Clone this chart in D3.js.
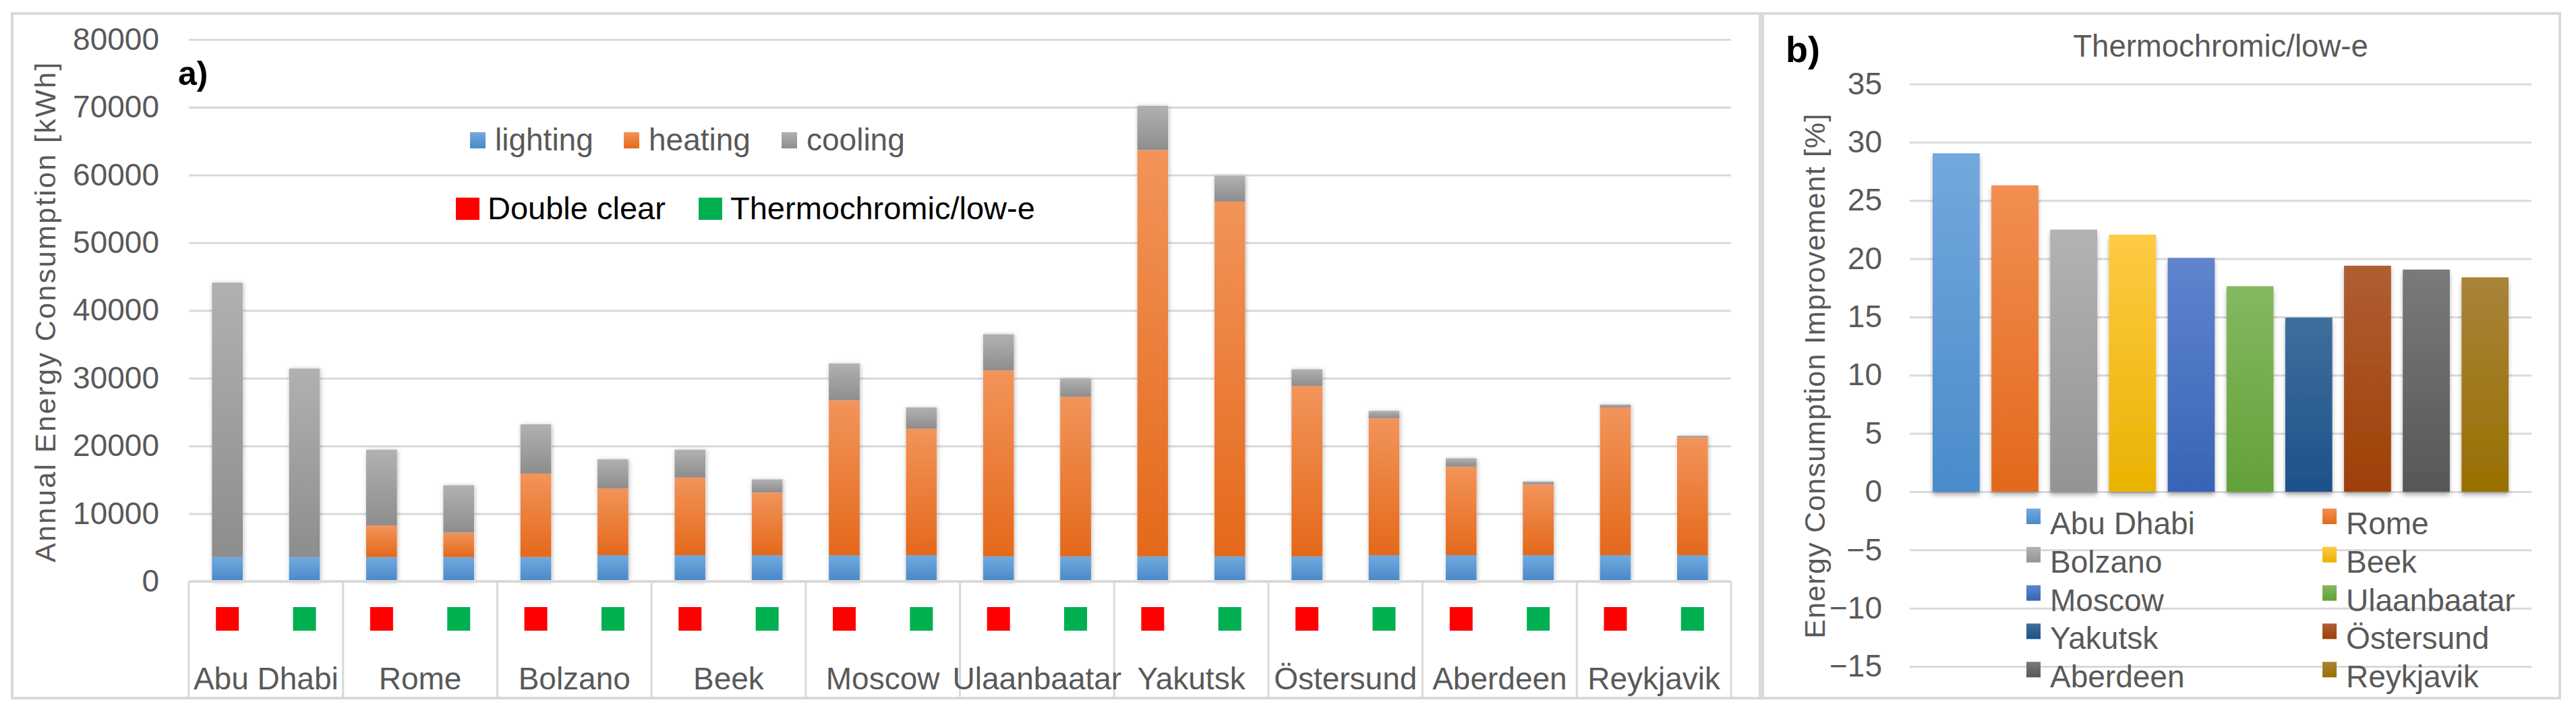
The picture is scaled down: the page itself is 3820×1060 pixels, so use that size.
<!DOCTYPE html>
<html>
<head>
<meta charset="utf-8">
<script src="https://cdn.jsdelivr.net/npm/d3@7"></script>
<style>
  html, body { margin: 0; padding: 0; background: #fff; }
  svg { display: block; font-family: "Liberation Sans", Arial, sans-serif; }
</style>
</head>
<body>
<svg id="chart" width="3820" height="1060"></svg>
<script>
// ---------------- DATA ----------------
const cities = ["Abu Dhabi", "Rome", "Bolzano", "Beek", "Moscow", "Ulaanbaatar", "Yakutsk", "Östersund", "Aberdeen", "Reykjavik"];
const glazings = ["Double clear", "Thermochromic/low-e"];
const components = ["lighting", "heating", "cooling"];

// Annual energy consumption [kWh], Double clear
const lightingDC = [3600, 3600, 3600, 3880, 3880, 3700, 3700, 3700, 3880, 3880];
const heatingDC  = [0, 4650, 12320, 11460, 22860, 27450, 59980, 25160, 13070, 21800];
const coolingDC  = [40500, 11200, 7280, 4110, 5440, 5350, 6540, 2460, 1230, 440];
// Annual energy consumption [kWh], Thermochromic/low-e
const lightingTC = [3600, 3600, 3880, 3880, 3880, 3700, 3700, 3880, 3880, 3880];
const heatingTC  = [0, 3600, 9850, 9240, 18650, 23550, 52370, 20190, 10430, 17380];
const coolingTC  = [27830, 7000, 4310, 1950, 3150, 2710, 3770, 1100, 450, 240];

// Energy consumption improvement [%], Thermochromic/low-e
const improvement = [29.05, 26.3, 22.5, 22.07, 20.07, 17.64, 14.95, 19.4, 19.07, 18.4];

const yTicksA = [0, 10000, 20000, 30000, 40000, 50000, 60000, 70000, 80000];
const yTicksB = [-15, -10, -5, 0, 5, 10, 15, 20, 25, 30, 35];

// ---------------- STYLE ----------------
const compGrad = {
  lighting: ["#72a9dd", "#4889c9"],
  heating:  ["#f2945a", "#e4691a"],
  cooling:  ["#b1b1b1", "#8d8d8d"]
};
const glazingColor = {"Double clear": "#ff0000", "Thermochromic/low-e": "#00b050"};
const cityGrad = [
  ["#73a9dd", "#4a8bcb"],
  ["#f28f52", "#e2691b"],
  ["#b3b3b3", "#949494"],
  ["#ffca45", "#e9b300"],
  ["#5f85cd", "#3864b6"],
  ["#84b960", "#63a139"],
  ["#3f6f9d", "#1d5189"],
  ["#b05e33", "#9e4006"],
  ["#7a7a7a", "#575757"],
  ["#a8833a", "#987000"]
];
const gridCol = "#d9d9d9";
const textCol = "#595959";

const svg = d3.select("#chart");
const defs = svg.append("defs");

function addGrad(id, cols) {
  const g = defs.append("linearGradient").attr("id", id)
    .attr("x1", 0).attr("y1", 0).attr("x2", 0).attr("y2", 1);
  g.append("stop").attr("offset", "0%").attr("stop-color", cols[0]);
  g.append("stop").attr("offset", "100%").attr("stop-color", cols[1]);
}
components.forEach(c => addGrad("g-" + c, compGrad[c]));
cityGrad.forEach((c, i) => addGrad("gc-" + i, c));

const fA = defs.append("filter").attr("id", "shadowA")
  .attr("x", "-30%").attr("y", "-10%").attr("width", "160%").attr("height", "120%");
fA.append("feDropShadow").attr("dx", 1).attr("dy", 1).attr("stdDeviation", 3)
  .attr("flood-color", "#000").attr("flood-opacity", 0.28);
const fB = defs.append("filter").attr("id", "shadowB")
  .attr("x", "-30%").attr("y", "-10%").attr("width", "160%").attr("height", "125%");
fB.append("feDropShadow").attr("dx", 0).attr("dy", 5).attr("stdDeviation", 3)
  .attr("flood-color", "#000").attr("flood-opacity", 0.3);

// ---------------- PANEL BORDERS ----------------
svg.append("rect").attr("x", 18).attr("y", 20).attr("width", 2592).attr("height", 1015)
  .attr("fill", "none").attr("stroke", gridCol).attr("stroke-width", 4);
svg.append("rect").attr("x", 2614).attr("y", 20).attr("width", 1182).attr("height", 1015)
  .attr("fill", "none").attr("stroke", gridCol).attr("stroke-width", 4);

// ================= PANEL A =================
const ax0 = 280, ax1 = 2567;
const yA = d3.scaleLinear().domain([0, 80000]).range([862, 58.5]);
const xA = d3.scaleBand().domain(cities).range([ax0, ax1]).padding(0);
const xSub = d3.scaleBand().domain(glazings).range([0, xA.bandwidth()])
  .paddingInner(0.6).paddingOuter(0.3);

// grid + y labels
const gA = svg.append("g").attr("transform", `translate(${ax0},0)`)
  .call(d3.axisLeft(yA).tickValues(yTicksA).tickFormat(d3.format("d"))
    .tickSize(-(ax1 - ax0)).tickPadding(44));
gA.select(".domain").remove();
gA.selectAll("line").attr("stroke", gridCol).attr("stroke-width", 3);
gA.selectAll("text").attr("fill", textCol).attr("font-size", 46)
  .attr("font-family", "Liberation Sans, Arial, sans-serif");

// data rows
const rows = [];
cities.forEach((c, i) => {
  rows.push({city: c, glazing: glazings[0], lighting: lightingDC[i], heating: heatingDC[i], cooling: coolingDC[i]});
  rows.push({city: c, glazing: glazings[1], lighting: lightingTC[i], heating: heatingTC[i], cooling: coolingTC[i]});
});
const stacked = d3.stack().keys(components)(rows);

// shadows layer (whole bar) then segments
const barX = d => xA(d.city) + xSub(d.glazing);
svg.append("g").selectAll("rect").data(rows).join("rect")
  .attr("x", barX).attr("width", xSub.bandwidth())
  .attr("y", d => yA(d.lighting + d.heating + d.cooling))
  .attr("height", d => yA(0) - yA(d.lighting + d.heating + d.cooling))
  .attr("fill", "#fff").attr("filter", "url(#shadowA)");

svg.append("g").selectAll("g").data(stacked).join("g")
  .attr("fill", s => `url(#g-${s.key})`)
  .selectAll("rect").data(s => s.filter(p => p[1] - p[0] > 0)).join("rect")
  .attr("x", p => barX(p.data)).attr("width", xSub.bandwidth())
  .attr("y", p => yA(p[1])).attr("height", p => yA(p[0]) - yA(p[1]));

// category axis area
const catG = svg.append("g");
catG.append("line").attr("x1", ax0).attr("x2", ax1).attr("y1", 862).attr("y2", 862)
  .attr("stroke", gridCol).attr("stroke-width", 4);
const edges = cities.map(c => xA(c)).concat([xA(cities[cities.length - 1]) + xA.bandwidth()]);
catG.selectAll("line.div").data(edges).join("line").attr("class", "div")
  .attr("x1", d => d).attr("x2", d => d).attr("y1", 862).attr("y2", 1035)
  .attr("stroke", gridCol).attr("stroke-width", 3);
catG.selectAll("rect.mk").data(rows).join("rect").attr("class", "mk")
  .attr("x", d => barX(d) + xSub.bandwidth() / 2 - 17).attr("width", 34)
  .attr("y", 900).attr("height", 35)
  .attr("fill", d => glazingColor[d.glazing]);
catG.selectAll("text.cat").data(cities).join("text").attr("class", "cat")
  .attr("x", d => xA(d) + xA.bandwidth() / 2).attr("y", 1022)
  .attr("text-anchor", "middle").attr("font-size", 46).attr("fill", textCol)
  .text(d => d);

// y title A
svg.append("text")
  .attr("transform", "translate(82,462) rotate(-90)")
  .attr("text-anchor", "middle").attr("font-size", 43).attr("letter-spacing", 2.4)
  .attr("fill", textCol).text("Annual Energy Consumption [kWh]");

// "a)"
svg.append("text").attr("x", 264).attr("y", 126).attr("font-size", 50)
  .attr("font-weight", "bold").attr("fill", "#000").text("a)");

// legend 1 (components)
const leg1x = [697, 925, 1159];
const leg1 = svg.append("g").selectAll("g").data(components).join("g")
  .attr("transform", (d, i) => `translate(${leg1x[i]},0)`);
leg1.append("rect").attr("x", 0).attr("y", 196).attr("width", 23).attr("height", 24)
  .attr("fill", d => `url(#g-${d})`);
leg1.append("text").attr("x", 37).attr("y", 223).attr("font-size", 46)
  .attr("fill", textCol).text(d => d);

// legend 2 (glazings)
const leg2x = [676, 1036];
const leg2 = svg.append("g").selectAll("g").data(glazings).join("g")
  .attr("transform", (d, i) => `translate(${leg2x[i]},0)`);
leg2.append("rect").attr("x", 0).attr("y", 293).attr("width", 35).attr("height", 33)
  .attr("fill", d => glazingColor[d]);
leg2.append("text").attr("x", 47).attr("y", 325).attr("font-size", 47)
  .attr("fill", "#000").text(d => d);

// ================= PANEL B =================
const bx0 = 2832, bx1 = 3754;
const yB = d3.scaleLinear().domain([-15, 35]).range([988, 124.5]);
const xB = d3.scaleBand().domain(cities).range([bx0, bx1]).paddingInner(0.2).paddingOuter(0.39);

const gB = svg.append("g").attr("transform", `translate(${bx0},0)`)
  .call(d3.axisLeft(yB).tickValues(yTicksB).tickFormat(d3.format("d"))
    .tickSize(-(bx1 - bx0)).tickPadding(41));
gB.select(".domain").remove();
gB.selectAll("line").attr("stroke", gridCol).attr("stroke-width", 3);
gB.selectAll("text").attr("fill", textCol).attr("font-size", 46)
  .attr("font-family", "Liberation Sans, Arial, sans-serif");

svg.append("g").selectAll("rect").data(improvement).join("rect")
  .attr("x", (d, i) => xB(cities[i])).attr("width", xB.bandwidth())
  .attr("y", d => yB(Math.max(0, d))).attr("height", d => Math.abs(yB(d) - yB(0)))
  .attr("fill", (d, i) => `url(#gc-${i})`).attr("filter", "url(#shadowB)");

// title B
svg.append("text").attr("x", 3293).attr("y", 84).attr("text-anchor", "middle")
  .attr("font-size", 45.5).attr("fill", textCol).text("Thermochromic/low-e");
// "b)"
svg.append("text").attr("x", 2648).attr("y", 92).attr("font-size", 54)
  .attr("font-weight", "bold").attr("fill", "#000").text("b)");
// y title B
svg.append("text")
  .attr("transform", "translate(2706,557) rotate(-90)")
  .attr("text-anchor", "middle").attr("font-size", 43).attr("letter-spacing", 1.2)
  .attr("fill", textCol).text("Energy Consumption Improvement [%]");

// legend B (2 columns x 5 rows)
const legBcolX = [3005, 3444];
const legB = svg.append("g").selectAll("g").data(cities).join("g")
  .attr("transform", (d, i) => `translate(${legBcolX[i % 2]},${792 + Math.floor(i / 2) * 56.8})`);
legB.append("rect").attr("x", 0).attr("y", -38).attr("width", 21).attr("height", 23)
  .attr("fill", (d, i) => `url(#gc-${i})`);
legB.append("text").attr("x", 35).attr("y", 0).attr("font-size", 46)
  .attr("fill", textCol).text(d => d);
</script>
</body>
</html>
